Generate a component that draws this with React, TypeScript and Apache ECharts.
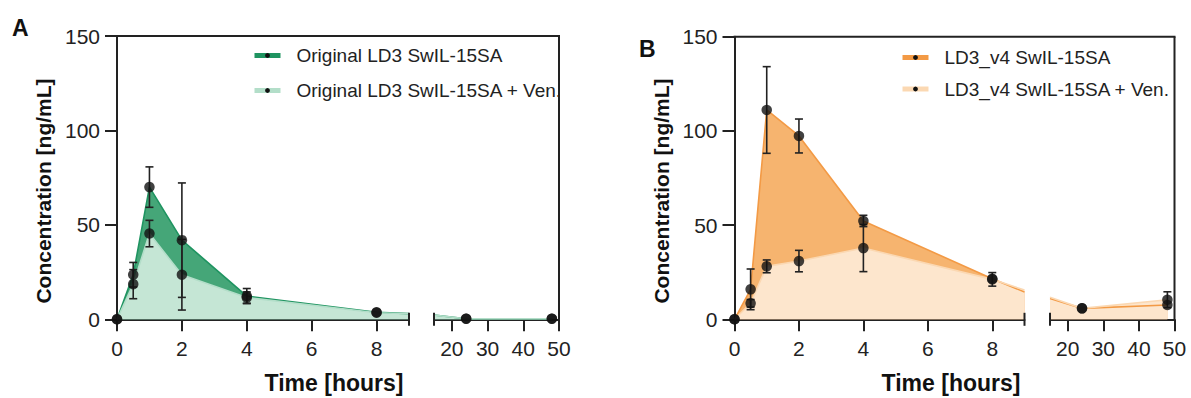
import React, { useEffect, useRef } from "react";
import * as echarts from "echarts";

const FONT = "'Liberation Sans', Arial, Helvetica, sans-serif";

// ---- data ----
const hoursEarly = [0, 0.5, 1, 2, 4, 8];
const hoursLate = [24, 48];
const segEnd = 9; // end of first axis segment (hours)
const segStart = 15; // start of second axis segment (hours)
const yTicks = [0, 50, 100, 150];
const xTicksEarly = [0, 2, 4, 6, 8];
const xTicksLate = [20, 30, 40, 50];

// Panel A
const namesA = ["Original LD3 SwIL-15SA", "Original LD3 SwIL-15SA + Ven."];
const origAEarly = [0, 23.6, 70.0, 41.9, 12.3, 3.7];
const origAEarlyErr = [0, 6.5, 10.7, 30.3, 4.0, 0];
const origALate = [0.3, 0.3];
const origALateErr = [0, 0];
const origAEdges = [3.0, 2.3]; // at 9 h and 15 h (axis break)
const venAEarly = [0, 18.6, 45.4, 23.6, 11.5, 3.5];
const venAEarlyErr = [0, 7.7, 7.0, 18.7, 3.0, 0];
const venALate = [0.3, 0.3];
const venALateErr = [0, 0];
const venAEdges = [2.9, 2.2];

// Panel B
const namesB = ["LD3_v4 SwIL-15SA", "LD3_v4 SwIL-15SA + Ven."];
const origBEarly = [0, 15.9, 111.1, 97.3, 52.2, 21.5];
const origBEarlyErr = [0, 10.8, 23.0, 9.0, 3.0, 0];
const origBLate = [5.8, 7.6];
const origBLateErr = [0, 0];
const origBEdges = [14.5, 11.0];
const venBEarly = [0, 8.5, 28.1, 30.9, 37.8, 21.2];
const venBEarlyErr = [0, 2.0, 3.4, 5.7, 12.5, 3.6];
const venBLate = [5.8, 10.4];
const venBLateErr = [0, 4.2];
const venBEdges = [15.5, 11.7];

const panels = [
  {
    letter: "A",
    names: namesA,
    series: [
      { early: origAEarly, earlyErr: origAEarlyErr, late: origALate, lateErr: origALateErr, edges: origAEdges },
      { early: venAEarly, earlyErr: venAEarlyErr, late: venALate, lateErr: venALateErr, edges: venAEdges },
    ],
    lineColors: ["#1f9461", "#b3dec9"],
    areaColors: ["#45a678", "#c5e6d5"],
    grid1: { left: 117, top: 36, width: 292, height: 283.3 },
    grid2: { left: 434, top: 36, width: 125, height: 283.3 },
    legend: { left: 252, top: 46, itemGap: 16 },
    letterPos: [12, 16],
    yTitlePos: [43, 191],
    xTitlePos: [334, 383],
  },
  {
    letter: "B",
    names: namesB,
    series: [
      { early: origBEarly, earlyErr: origBEarlyErr, late: origBLate, lateErr: origBLateErr, edges: origBEdges },
      { early: venBEarly, earlyErr: venBEarlyErr, late: venBLate, lateErr: venBLateErr, edges: venBEdges },
    ],
    lineColors: ["#f39a45", "#fbd8b2"],
    areaColors: ["#f6b46f", "#fde6cd"],
    grid1: { left: 734.5, top: 36.7, width: 290, height: 282.6 },
    grid2: { left: 1050, top: 36.7, width: 124.5, height: 282.6 },
    legend: { left: 900, top: 48, itemGap: 12.5 },
    letterPos: [639, 37],
    yTitlePos: [661, 191],
    xTitlePos: [951, 383],
  },
];

const AX = "#222";

function errorSeries(idx: number, data: number[][]) {
  return {
    type: "custom",
    xAxisIndex: idx,
    yAxisIndex: idx,
    z: 4,
    silent: true,
    data,
    encode: { x: 0, y: 1 },
    renderItem: (_p: any, api: any) => {
      const x = api.value(0);
      const y = api.value(1);
      const e = api.value(2);
      if (!e) return { type: "group", children: [] };
      const t = api.coord([x, y + e]);
      const b = api.coord([x, y - e]);
      const hw = 4;
      const st = { stroke: "#222", lineWidth: 1.6 };
      return {
        type: "group",
        children: [
          { type: "line", shape: { x1: t[0], y1: t[1], x2: b[0], y2: b[1] }, style: st },
          { type: "line", shape: { x1: t[0] - hw, y1: t[1], x2: t[0] + hw, y2: t[1] }, style: st },
          { type: "line", shape: { x1: b[0] - hw, y1: b[1], x2: b[0] + hw, y2: b[1] }, style: st },
        ],
      };
    },
  };
}

function buildOption() {
  const grid: any[] = [];
  const xAxis: any[] = [];
  const yAxis: any[] = [];
  const series: any[] = [];
  const legend: any[] = [];

  panels.forEach((p, pi) => {
    const g1 = pi * 2;
    const g2 = pi * 2 + 1;
    grid.push({ ...p.grid1, containLabel: false });
    grid.push({ ...p.grid2, containLabel: false });

    const axisCommon = {
      type: "value",
      axisLine: { show: true, lineStyle: { color: AX, width: 2 } },
      axisTick: { show: true, length: 12, lineStyle: { color: AX, width: 2 } },
      axisLabel: { color: AX, fontSize: 21, fontFamily: FONT, margin: 19 },
      splitLine: { show: false },
    };
    xAxis.push({
      ...axisCommon,
      gridIndex: g1,
      min: 0,
      max: segEnd,
      axisTick: { ...axisCommon.axisTick, customValues: xTicksEarly },
      axisLabel: { ...axisCommon.axisLabel, customValues: xTicksEarly },
    });
    xAxis.push({
      ...axisCommon,
      gridIndex: g2,
      min: segStart,
      max: 50,
      axisTick: { ...axisCommon.axisTick, customValues: xTicksLate },
      axisLabel: { ...axisCommon.axisLabel, customValues: xTicksLate },
    });
    yAxis.push({
      ...axisCommon,
      gridIndex: g1,
      min: 0,
      max: 150,
      interval: 50,
      axisTick: { ...axisCommon.axisTick, customValues: yTicks },
      axisLabel: { ...axisCommon.axisLabel, margin: 17, customValues: yTicks },
    });
    yAxis.push({
      type: "value",
      gridIndex: g2,
      min: 0,
      max: 150,
      show: false,
    });

    p.series.forEach((s, si) => {
      const earlyData = hoursEarly.map((h, i) => [h, s.early[i]]);
      earlyData.push([segEnd, s.edges[0]]);
      const lateData = [[segStart, s.edges[1]], ...hoursLate.map((h, i) => [h, s.late[i]])];
      const common = {
        type: "line",
        name: p.names[si],
        symbol: "circle",
        showSymbol: false,
        symbolSize: 10,
        itemStyle: { color: "#111" },
        lineStyle: { color: p.lineColors[si], width: 1.6 },
        areaStyle: { color: p.areaColors[si], opacity: 1 },
        z: 2,
        silent: true,
      };
      series.push({ ...common, xAxisIndex: g1, yAxisIndex: g1, data: earlyData });
      series.push({ ...common, xAxisIndex: g2, yAxisIndex: g2, data: lateData });
      series.push(errorSeries(g1, hoursEarly.map((h, i) => [h, s.early[i], s.earlyErr[i]])));
      series.push(errorSeries(g2, hoursLate.map((h, i) => [h, s.late[i], s.lateErr[i]])));
    });
    p.series.forEach((s) => {
      series.push({
        type: "scatter",
        xAxisIndex: g1,
        yAxisIndex: g1,
        symbolSize: 10.5,
        itemStyle: { color: "#111" },
        z: 5,
        silent: true,
        data: hoursEarly.map((h, i) => [h, s.early[i]]),
      });
      series.push({
        type: "scatter",
        xAxisIndex: g2,
        yAxisIndex: g2,
        symbolSize: 10.5,
        itemStyle: { color: "#111" },
        z: 5,
        silent: true,
        data: hoursLate.map((h, i) => [h, s.late[i]]),
      });
    });

    legend.push({
      left: p.legend.left,
      top: p.legend.top,
      padding: 0,
      orient: "vertical",
      itemWidth: 26,
      itemHeight: 6,
      itemGap: p.legend.itemGap,
      data: p.names,
      selectedMode: false,
      lineStyle: { width: 5 },
      textStyle: { fontSize: 19, color: AX, fontFamily: FONT, padding: [0, 0, 0, 11] },
    });
  });

  return { animation: false, backgroundColor: "#fff", grid, xAxis, yAxis, series, legend };
}

export default function App() {
  const ref = useRef<HTMLDivElement>(null);
  useEffect(() => {
    if (!ref.current) return;
    const chart = echarts.init(ref.current, undefined, { renderer: "svg" });
    chart.setOption(buildOption() as any);

    const gfx: any[] = [];
    const frame = { stroke: AX, lineWidth: 2 };
    panels.forEach((p, pi) => {
      const g1 = pi * 2;
      const g2 = pi * 2 + 1;
      const tl = chart.convertToPixel({ gridIndex: g1 } as any, [0, 150]) as number[];
      const tr = chart.convertToPixel({ gridIndex: g2 } as any, [50, 150]) as number[];
      const br = chart.convertToPixel({ gridIndex: g2 } as any, [50, 0]) as number[];
      const e1 = chart.convertToPixel({ gridIndex: g1 } as any, [segEnd, 0]) as number[];
      const s2 = chart.convertToPixel({ gridIndex: g2 } as any, [segStart, 0]) as number[];
      gfx.push({ type: "line", shape: { x1: tl[0] - 1, y1: tl[1], x2: tr[0] + 1, y2: tr[1] }, style: frame, z: 10 });
      gfx.push({ type: "line", shape: { x1: tr[0], y1: tr[1], x2: br[0], y2: br[1] }, style: frame, z: 10 });
      gfx.push({ type: "line", shape: { x1: e1[0], y1: e1[1] - 6.5, x2: e1[0], y2: e1[1] + 6.5 }, style: frame, z: 10 });
      gfx.push({ type: "line", shape: { x1: s2[0], y1: s2[1] - 6.5, x2: s2[0], y2: s2[1] + 6.5 }, style: frame, z: 10 });
      gfx.push({
        type: "text",
        left: p.letterPos[0],
        top: p.letterPos[1],
        style: { text: p.letter, font: `bold 23px ${FONT}`, fill: "#111" },
      });
      gfx.push({
        type: "text",
        x: p.xTitlePos[0],
        y: p.xTitlePos[1],
        style: { text: "Time [hours]", font: `bold 23px ${FONT}`, fill: "#111", align: "center", verticalAlign: "middle" },
      });
      gfx.push({
        type: "text",
        x: p.yTitlePos[0],
        y: p.yTitlePos[1],
        rotation: Math.PI / 2,
        style: { text: "Concentration [ng/mL]", font: `bold 21px ${FONT}`, fill: "#111", align: "center", verticalAlign: "middle" },
      });
    });
    chart.setOption({ graphic: gfx });
    return () => chart.dispose();
  }, []);
  return <div ref={ref} style={{ position: "absolute", left: 0, top: 0, width: 1191, height: 398 }} />;
}
